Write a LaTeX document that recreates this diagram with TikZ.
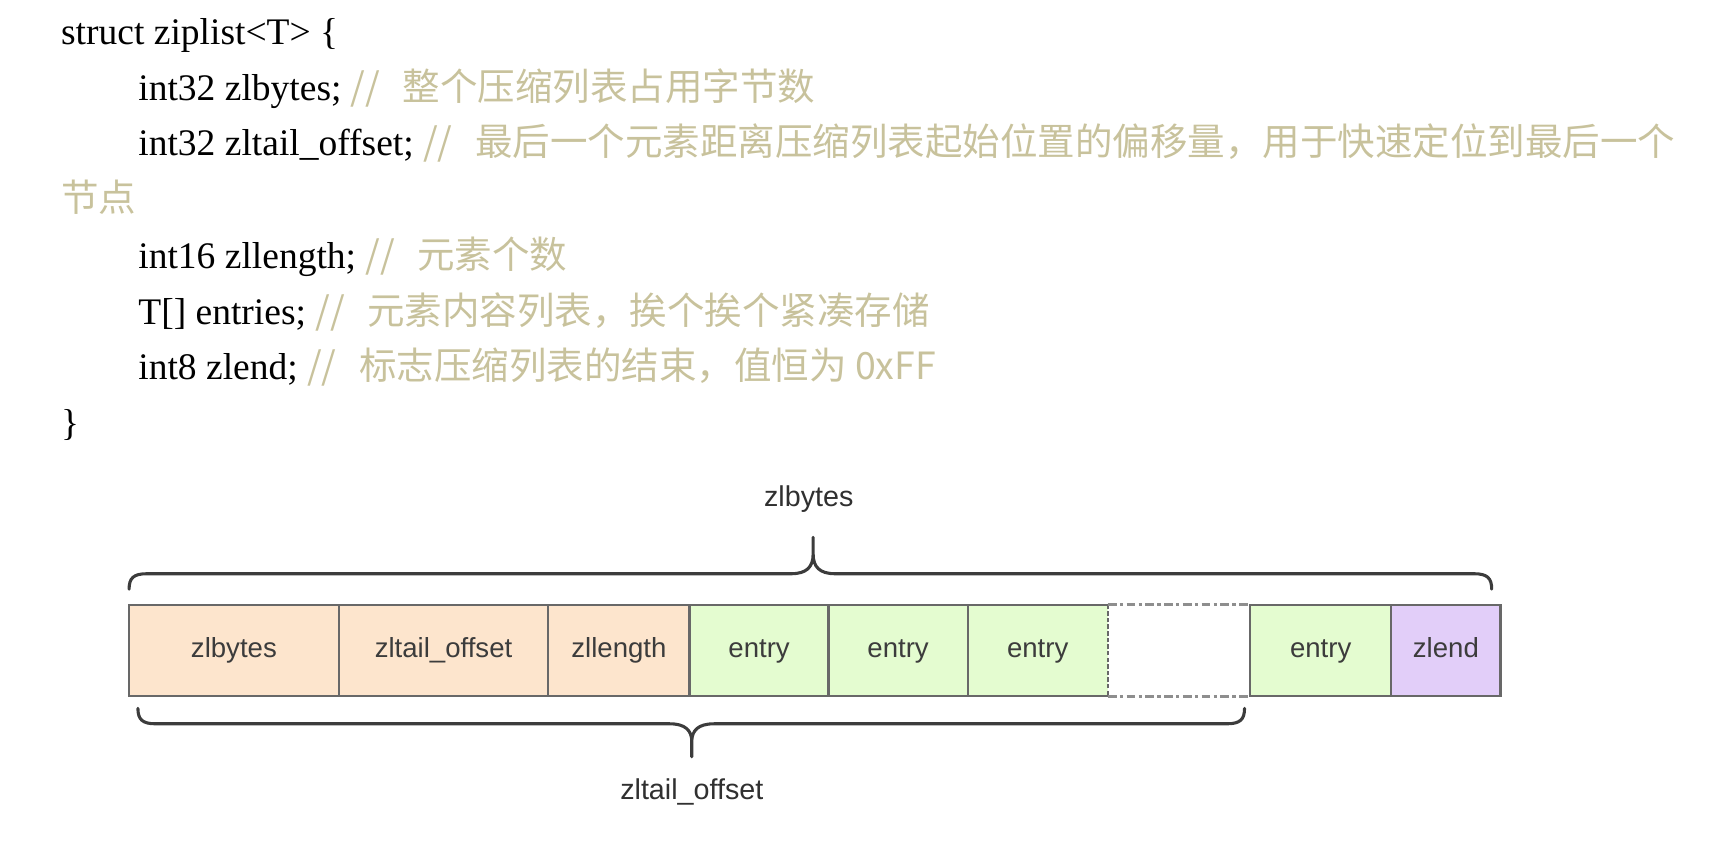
\documentclass[tikz,border=0pt]{standalone}
\usepackage{fontspec}
\setmainfont{Liberation Serif}
\setsansfont{Liberation Sans}
\newfontfamily\cjk{Noto Sans CJK SC}
\usetikzlibrary{positioning}
\definecolor{cmt}{RGB}{200,194,156}
\definecolor{hdr}{RGB}{253,229,205}
\definecolor{ent}{RGB}{228,252,208}
\definecolor{endc}{RGB}{226,206,249}
\definecolor{edge}{RGB}{104,104,104}
\definecolor{lbl}{RGB}{60,60,60}
\newcommand{\zlcmt}[1]{{\color{cmt}\cjk #1}}

\begin{document}
\begin{tikzpicture}[x=0.5pt,y=-0.5pt,
    code/.style={anchor=base west,inner sep=0pt,font=\fontsize{17}{20}\selectfont},
    cell/.style={draw=edge,line width=1pt,minimum height=41.5pt,inner sep=0pt,outer sep=0pt,
      text height=9pt,text depth=2.5pt,font=\sffamily\fontsize{12.5}{14}\selectfont,text=lbl},
    brace/.style={draw=lbl,line width=1.4pt,line cap=round,line join=round},
    label/.style={font=\sffamily\fontsize{13}{15}\selectfont,text=lbl!80!black}]
    \useasboundingbox (0,0) rectangle (1568,767);

    \node[code] (c1) at (55,40) {struct ziplist<T> \{};
    \node[code] (c2) at (125,91) {int32 zlbytes; \zlcmt{//\hspace{0.6em}整个压缩列表占用字节数}};
    \node[code] (c3) at (125,141) {int32 zltail\_offset; \zlcmt{//\hspace{0.6em}最后一个元素距离压缩列表起始位置的偏移量，用于快速定位到最后一个}};
    \node[code] (c4) at (55,192) {\zlcmt{节点}};
    \node[code] (c5) at (125,243) {int16 zllength; \zlcmt{//\hspace{0.6em}元素个数}};
    \node[code] (c6) at (125,294) {T[] entries; \zlcmt{//\hspace{0.6em}元素内容列表，挨个挨个紧凑存储}};
    \node[code] (c7) at (125,344) {int8 zlend; \zlcmt{//\hspace{0.6em}标志压缩列表的结束，值恒为 0xFF}};
    \node[code] (c8) at (55,395) {\}};

    \node[cell,fill=hdr,minimum width=95pt,anchor=north west] (1) at (117,548) {zlbytes};
    \node[cell,fill=hdr,minimum width=95pt,right=0pt of 1] (2) {zltail\_offset};
    \node[cell,fill=hdr,minimum width=64pt,right=0pt of 2] (3) {zllength};
    \node[cell,fill=ent,minimum width=63pt,right=0pt of 3] (4) {entry};
    \node[cell,fill=ent,minimum width=63pt,right=0pt of 4] (5) {entry};
    \node[cell,fill=ent,draw=none,minimum width=63.5pt,right=0pt of 5] (6) {entry};
    \node[cell,draw=none,minimum width=64.5pt,right=0pt of 6] (7) {};
    \node[cell,fill=ent,minimum width=64pt,right=0pt of 7] (8) {entry};
    \node[cell,fill=endc,minimum width=49.5pt,right=0pt of 8] (9) {zlend};

    \draw[edge,line width=1pt] (6.north east) -- (6.north west) -- (6.south west) -- (6.south east);
    \draw[edge,line width=1pt,dash pattern=on 2pt off 1pt] (6.north east) -- (6.south east);
    \draw[edge!75,line width=1.3pt,dash pattern=on 4pt off 1.5pt on 1.5pt off 1.5pt]
      (7.north west) -- (7.north east) (7.south west) -- (7.south east);

    \draw[brace] (117,534) .. controls (117,524) and (121,520) .. (133,520) -- (717,520)
      .. controls (731,520) and (737,514) .. (737,502) -- (737,487) -- (737,502)
      .. controls (737,514) and (743,520) .. (757,520) -- (1336,520)
      .. controls (1348,520) and (1352,524) .. (1352,534);
    \draw[brace] (125,642) .. controls (125,652) and (129,656) .. (141,656) -- (607,656)
      .. controls (621,656) and (627,662) .. (627,672) -- (627,686) -- (627,672)
      .. controls (627,662) and (633,656) .. (647,656) -- (1112,656)
      .. controls (1124,656) and (1128,652) .. (1128,642);

    \node[label] (top) at (733,452) {zlbytes};
    \node[label] (bot) at (627,718) {zltail\_offset};
  \end{tikzpicture}
\end{document}
